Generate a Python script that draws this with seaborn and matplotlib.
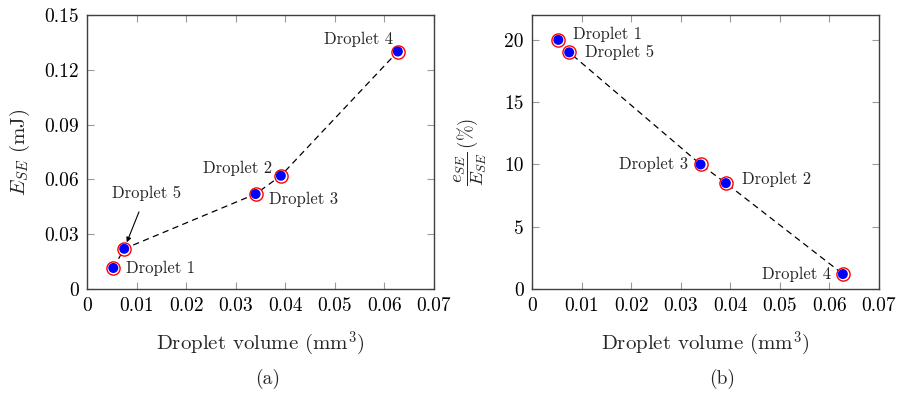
import matplotlib
matplotlib.use("Agg")
import matplotlib.pyplot as plt
import seaborn as sns
import pandas as pd

# ---- data ----
droplets = ["Droplet 1", "Droplet 2", "Droplet 3", "Droplet 4", "Droplet 5"]
volume = [0.0053, 0.0391, 0.0340, 0.0627, 0.0075]
energy = [0.0115, 0.062, 0.052, 0.130, 0.022]
error_pct = [20.0, 8.5, 10.0, 1.2, 19.0]

x_ticks = [0, 0.01, 0.02, 0.03, 0.04, 0.05, 0.06, 0.07]
x_tick_labels = ["0", "0.01", "0.02", "0.03", "0.04", "0.05", "0.06", "0.07"]
y_ticks_a = [0, 0.03, 0.06, 0.09, 0.12, 0.15]
y_tick_labels_a = ["0", "0.03", "0.06", "0.09", "0.12", "0.15"]
y_ticks_b = [0, 5, 10, 15, 20]
y_tick_labels_b = ["0", "5", "10", "15", "20"]

sns.set_style("ticks")
plt.rcParams["font.family"] = ["cmr10", "DejaVu Serif"]
plt.rcParams["mathtext.fontset"] = "cm"
plt.rcParams["axes.unicode_minus"] = False
plt.rcParams["axes.formatter.use_mathtext"] = True

df = pd.DataFrame({"droplet": droplets, "volume": volume,
                   "energy": energy, "error": error_pct})
df_sorted = df.sort_values("volume")

fig = plt.figure(figsize=(8.99, 3.95), dpi=100)
axA = fig.add_axes([0.0968, 0.2684, 0.386, 0.6937])
axB = fig.add_axes([0.5918, 0.2684, 0.386, 0.6937])


def style_axes(ax, yt, ytl, ylim):
    ax.set_xlim(0, 0.07)
    ax.set_ylim(*ylim)
    ax.set_xticks(x_ticks)
    ax.set_xticklabels(x_tick_labels)
    ax.set_yticks(yt)
    ax.set_yticklabels(ytl)
    ax.tick_params(direction="in", length=5, width=0.8, color="#9a9a9a",
                   labelsize=14, top=True, right=True, pad=6,
                   labelcolor="black")
    for sp in ax.spines.values():
        sp.set_visible(True)
        sp.set_color("#404040")
        sp.set_linewidth(1.0)


def draw(ax, ycol):
    sns.lineplot(data=df_sorted, x="volume", y=ycol, ax=ax, color="black",
                 lw=0.9, linestyle=(0, (5, 3.5)), sort=False,
                 estimator=None, zorder=2)
    sns.scatterplot(data=df, x="volume", y=ycol, ax=ax, s=90,
                    facecolor="white", edgecolor="red", linewidth=1.0,
                    zorder=3)
    sns.scatterplot(data=df, x="volume", y=ycol, ax=ax, s=52,
                    color="blue", edgecolor="none", linewidth=0, zorder=4)


draw(axA, "energy")
draw(axB, "error")

style_axes(axA, y_ticks_a, y_tick_labels_a, (0, 0.15))
style_axes(axB, y_ticks_b, y_tick_labels_b, (0, 22))

axA.set_xlabel(r"Droplet volume (mm$^3$)", fontsize=15)
axB.set_xlabel(r"Droplet volume (mm$^3$)", fontsize=15)
axA.set_ylabel(r"$E_{SE}$ (mJ)", fontsize=15)
axB.set_ylabel(r"$\dfrac{e_{SE}}{E_{SE}}\,$(%)", fontsize=13.5)
axA.xaxis.set_label_coords(0.5, -0.15)
axB.xaxis.set_label_coords(0.5, -0.15)
axA.yaxis.set_label_coords(-0.16, 0.5)
axB.yaxis.set_label_coords(-0.125, 0.5)

fs = 12
# panel (a) annotations: offsets in points
ann_a = {
    "Droplet 1": ((9, 0), "left", "center"),
    "Droplet 3": ((10, -4), "left", "center"),
    "Droplet 2": ((-6, 5), "right", "center"),
    "Droplet 4": ((-3.5, 9), "right", "center"),
}
for _, r in df.iterrows():
    if r["droplet"] in ann_a:
        off, ha, va = ann_a[r["droplet"]]
        axA.annotate(r["droplet"], (r["volume"], r["energy"]), xytext=off,
                     textcoords="offset points", ha=ha, va=va, fontsize=fs)
r5 = df[df["droplet"] == "Droplet 5"].iloc[0]
axA.annotate("Droplet 5", (r5["volume"], r5["energy"]), xytext=(16, 40),
             textcoords="offset points", ha="center", va="center",
             fontsize=fs,
             arrowprops=dict(arrowstyle="-|>", color="black", lw=0.8,
                             shrinkA=6, shrinkB=5, mutation_scale=7))

ann_b = {
    "Droplet 1": ((10.5, 4), "left", "center"),
    "Droplet 5": ((11.5, 0), "left", "center"),
    "Droplet 3": ((-9, 0), "right", "center"),
    "Droplet 2": ((11.5, 3), "left", "center"),
    "Droplet 4": ((-8.5, 0), "right", "center"),
}
for _, r in df.iterrows():
    off, ha, va = ann_b[r["droplet"]]
    axB.annotate(r["droplet"], (r["volume"], r["error"]), xytext=off,
                 textcoords="offset points", ha=ha, va=va, fontsize=fs)

fig.text(268 / 899, 1 - 379 / 395, "(a)", ha="center", va="center", fontsize=14)
fig.text(722 / 899, 1 - 379 / 395, "(b)", ha="center", va="center", fontsize=14)

fig.savefig("out.png", dpi=100)
